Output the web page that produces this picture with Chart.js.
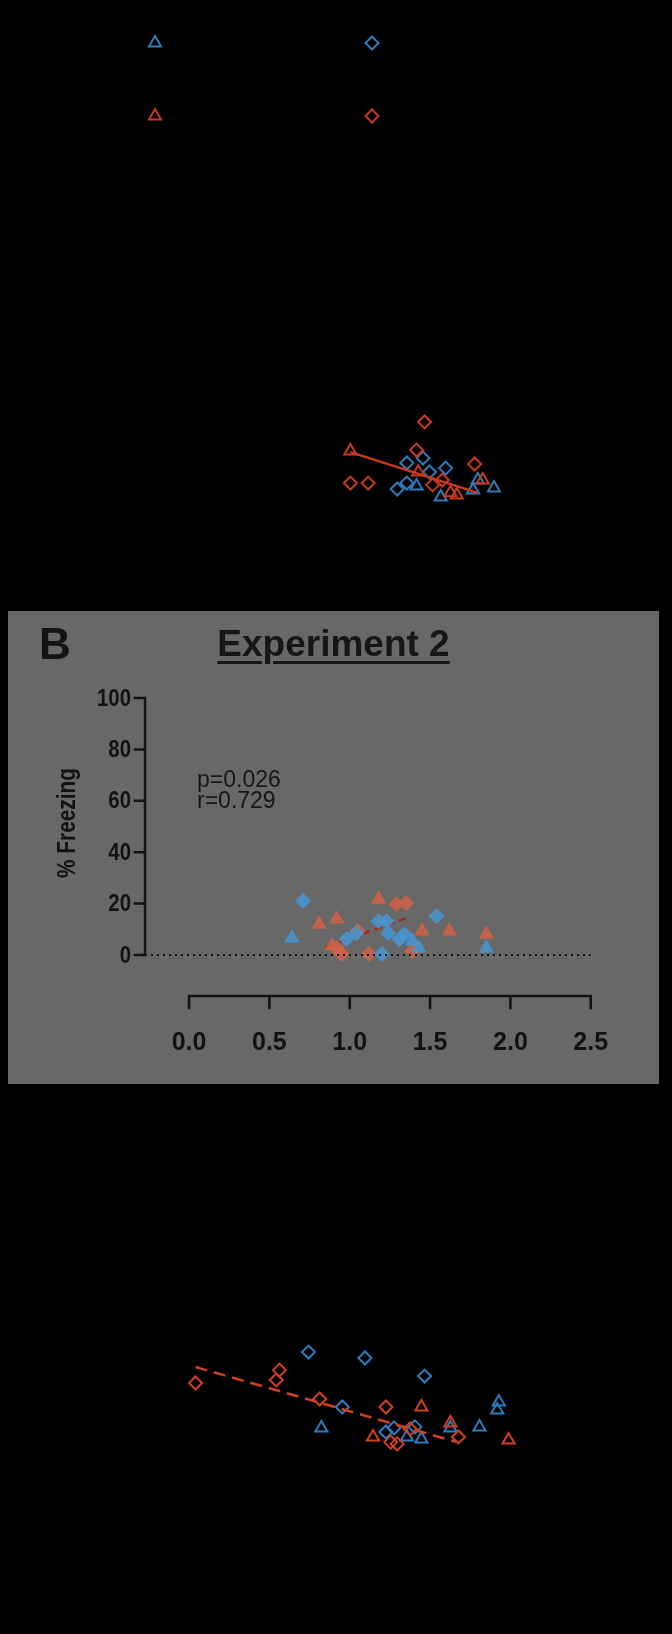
<!DOCTYPE html>
<html lang="en">
<head>
  <title>Experiment 2</title>
  <meta charset="utf-8">
  <script src="https://cdn.jsdelivr.net/npm/chart.js@4.4.1/dist/chart.umd.min.js"></script>
  <style>
    body { margin: 0; background: #000; }
    .page { position: relative; width: 672px; height: 1634px; background: #000; overflow: hidden; }
    #panelA { position: absolute; left: 0; top: 0; }
    #panelC { position: absolute; left: 0; top: 1090px; }
    .panelB { position: absolute; left: 8px; top: 611px; width: 651px; height: 473px; background: #686868; }
    .panelB canvas { position: absolute; left: 0; top: 0; }
    .letter { position: absolute; left: 31px; top: 8px; font: bold 44px "Liberation Sans", Arial, sans-serif; color: #141414; line-height: normal; }
    .title { position: absolute; left: 0; width: 651px; top: 12px; text-align: center; font: bold 37px "Liberation Sans", Arial, sans-serif; color: #161616;
             text-decoration: underline; text-decoration-thickness: 3px; text-underline-offset: 5px; text-decoration-skip-ink: auto; }
    .stats { position: absolute; left: 189px; top: 158px; font: 23px "Liberation Sans", Arial, sans-serif; color: #161616; line-height: 21px; }
  </style>
</head>
<body>
<div class="page">
  <canvas id="panelA" width="672" height="600"></canvas>

  <div class="panelB">
    <canvas id="chartB" width="651" height="473"></canvas>
    <div class="letter">B</div>
    <div class="title">Experiment 2</div>
    <div class="stats">p=0.026<br>r=0.729</div>
  </div>

  <canvas id="panelC" width="672" height="544"></canvas>
</div>

<script>
  // shared axes
  const xTicks = [0, 0.5, 1, 1.5, 2, 2.5];
  const xTickLabels = ["0.0", "0.5", "1.0", "1.5", "2.0", "2.5"];
  const yTicks = [0, 20, 40, 60, 80, 100];
  const yTitle = "% Freezing";

  // top panel
  const aBlueTriX = [1.40, 1.55, 1.78, 1.75, 1.88];
  const aBlueTriY = [4.3, 0.0, 6.6, 2.7, 3.5];
  const aBlueDiaX = [1.44, 1.34, 1.58, 1.48, 1.28, 1.34];
  const aBlueDiaY = [15.1, 13.2, 11.2, 9.7, 3.1, 5.4];
  const aRedTriX = [0.99, 1.61, 1.65, 1.81, 1.41];
  const aRedTriY = [17.8, 1.6, 0.8, 6.6, 9.7];
  const aRedDiaX = [1.45, 0.99, 1.10, 1.40, 1.76, 1.50, 1.56];
  const aRedDiaY = [29.1, 5.4, 5.4, 18.2, 12.8, 4.7, 6.6];
  const aFitX = [0.99, 1.78];
  const aFitY = [17.4, 1.6];

  // panel B (Experiment 2)
  const bBlueTriX = [0.64, 1.85, 1.43, 1.39];
  const bBlueTriY = [6.6, 2.7, 2.7, 5.4];
  const bBlueDiaX = [0.71, 1.18, 1.23, 1.24, 1.04, 0.98, 1.31, 1.54, 1.20, 1.34];
  const bBlueDiaY = [21.0, 13.2, 13.2, 8.5, 8.5, 6.2, 6.2, 15.1, 0.4, 8.0];
  const bRedTriX = [0.81, 0.92, 1.18, 1.45, 1.62, 1.85, 0.89];
  const bRedTriY = [12.0, 14.0, 21.7, 9.3, 9.3, 8.1, 3.5];
  const bRedDiaX = [0.92, 0.95, 1.29, 1.35, 1.05, 1.12, 1.39];
  const bRedDiaY = [2.7, 0.4, 19.8, 20.2, 9.3, 0.4, 1.5];
  const bFitX = [0.85, 1.35];
  const bFitY = [3.1, 14.3];

  // bottom panel
  const cBlueTriX = [1.91, 1.90, 0.81, 1.61, 1.79, 1.34, 1.43];
  const cBlueTriY = [20.5, 17.4, 10.5, 10.5, 10.9, 7.0, 6.2];
  const cBlueDiaX = [0.73, 1.08, 1.45, 0.94, 1.21, 1.26, 1.39];
  const cBlueDiaY = [39.9, 37.6, 30.6, 18.6, 8.9, 10.5, 10.9];
  const cRedTriX = [1.43, 1.61, 1.13, 1.97];
  const cRedTriY = [18.6, 12.4, 7.0, 5.8];
  const cRedDiaX = [0.03, 0.55, 0.53, 0.80, 1.21, 1.36, 1.24, 1.28, 1.66];
  const cRedDiaY = [27.9, 32.9, 29.1, 21.7, 18.6, 10.1, 5.0, 4.3, 7.0];
  const cFitX = [0.03, 1.65];
  const cFitY = [34.1, 5.0];

  const BLUE = "#2f7cbd";
  const RED = "#c9391f";
  const FONT = '"Liberation Sans", Arial, sans-serif';

  function pts(xs, ys) {
    return xs.map((x, i) => ({x: x, y: ys[i]}));
  }

  function markers(xs, ys, color, style, fill) {
    return {
      data: pts(xs, ys),
      pointStyle: style,
      pointRadius: fill ? (style == "triangle" ? 8 : 7.5) : (style == "triangle" ? 7 : 6.5),
      pointBorderWidth: fill ? 1 : 2,
      pointBorderColor: color,
      pointBackgroundColor: fill ? color : "rgba(0,0,0,0)",
      showLine: false,
      clip: false
    };
  }

  function fitLine(xs, ys, color, dash) {
    return {
      data: pts(xs, ys),
      showLine: true,
      pointRadius: 0,
      borderColor: color,
      borderWidth: 2.5,
      borderDash: dash,
      clip: false
    };
  }

  function baseOptions(pad, xMin) {
    return {
      responsive: false,
      animation: false,
      devicePixelRatio: 1,
      layout: {padding: pad},
      plugins: {legend: {display: false}, tooltip: {enabled: false}},
      scales: {
        x: {type: "linear", min: xMin, max: 2.5, display: false},
        y: {type: "linear", min: 0, max: 100, display: false}
      }
    };
  }

  // condensed text, the figure is a bit narrow
  function squeezed(ctx, text, x, y, sx) {
    ctx.save();
    ctx.translate(x, y);
    ctx.scale(sx, 1);
    ctx.fillText(text, 0, 0);
    ctx.restore();
  }

  // top panel, legend symbols only
  const legendA = {
    id: "legendA",
    afterDraw(chart) {
      const ctx = chart.ctx;
      const items = [
        [155, 43, "triangle", BLUE], [372, 43, "rectRot", BLUE],
        [155, 116, "triangle", RED], [372, 116, "rectRot", RED]
      ];
      ctx.save();
      items.forEach(it => {
        ctx.strokeStyle = it[3];
        ctx.fillStyle = "rgba(0,0,0,0)";
        ctx.lineWidth = 2;
        Chart.helpers.drawPoint(ctx, {pointStyle: it[2], radius: it[2] == "triangle" ? 7 : 6.5, borderWidth: 2, rotation: 0}, it[0], it[1]);
      });
      ctx.restore();
    }
  };

  new Chart("panelA", {
    type: "scatter",
    data: {datasets: [
      fitLine(aFitX, aFitY, RED, []),
      markers(aRedDiaX, aRedDiaY, RED, "rectRot"),
      markers(aRedTriX, aRedTriY, RED, "triangle"),
      markers(aBlueDiaX, aBlueDiaY, BLUE, "rectRot"),
      markers(aBlueTriX, aBlueTriY, BLUE, "triangle")
    ]},
    options: baseOptions({left: 142.3, right: 78, top: 239, bottom: 103}, -0.3),
    plugins: [legendA]
  });

  // panel B axes (offset GraphPad style)
  const axesB = {
    id: "axesB",
    beforeDatasetsDraw(chart) {
      const ctx = chart.ctx;
      const xs = chart.scales.x, ys = chart.scales.y;
      const ax = chart.chartArea.left;
      const y0 = ys.getPixelForValue(0);
      const xAxisY = y0 + 41;
      ctx.save();
      ctx.strokeStyle = "#121212";
      ctx.fillStyle = "#121212";
      ctx.lineWidth = 2.5;
      ctx.lineCap = "square";

      // y axis
      ctx.beginPath();
      ctx.moveTo(ax, ys.getPixelForValue(100));
      ctx.lineTo(ax, y0);
      yTicks.forEach(v => {
        const p = ys.getPixelForValue(v);
        ctx.moveTo(ax - 10, p);
        ctx.lineTo(ax, p);
      });
      ctx.stroke();
      ctx.font = "bold 24px " + FONT;
      ctx.textAlign = "right";
      ctx.textBaseline = "middle";
      yTicks.forEach(v => squeezed(ctx, String(v), ax - 14, ys.getPixelForValue(v) + 1, 0.85));

      // x axis
      ctx.beginPath();
      ctx.moveTo(xs.getPixelForValue(0), xAxisY);
      ctx.lineTo(xs.getPixelForValue(2.5), xAxisY);
      xTicks.forEach(v => {
        const p = xs.getPixelForValue(v);
        ctx.moveTo(p, xAxisY);
        ctx.lineTo(p, xAxisY + 12);
      });
      ctx.stroke();
      ctx.font = "bold 25px " + FONT;
      ctx.textAlign = "center";
      xTicks.forEach((v, i) => ctx.fillText(xTickLabels[i], xs.getPixelForValue(v), xAxisY + 47));

      // y title
      ctx.translate(60, 212);
      ctx.rotate(-Math.PI / 2);
      ctx.font = "bold 26px " + FONT;
      squeezed(ctx, yTitle, 0, 0, 0.8);
      ctx.restore();
    }
  };

  new Chart("chartB", {
    type: "scatter",
    data: {datasets: [
      {
        data: pts([-0.274, 2.5], [0, 0]),
        showLine: true, pointRadius: 0,
        borderColor: "#111", borderWidth: 2, borderDash: [2, 4], clip: false
      },
      markers(bBlueTriX, bBlueTriY, "rgba(70,150,212,0.85)", "triangle", true),
      markers(bBlueDiaX, bBlueDiaY, "rgba(70,150,212,0.85)", "rectRot", true),
      markers(bRedTriX, bRedTriY, "rgba(212,98,72,0.85)", "triangle", true),
      markers(bRedDiaX, bRedDiaY, "rgba(212,98,72,0.85)", "rectRot", true),
      fitLine(bFitX, bFitY, "#9e2a1c", [8, 5])
    ]},
    options: baseOptions({left: 137, right: 68.25, top: 87, bottom: 129}, -0.274),
    plugins: [axesB]
  });

  // bottom panel
  new Chart("panelC", {
    type: "scatter",
    data: {datasets: [
      fitLine(cFitX, cFitY, "#d2401f", [12, 7]),
      markers(cRedDiaX, cRedDiaY, "#d2401f", "rectRot"),
      markers(cRedTriX, cRedTriY, "#d2401f", "triangle"),
      markers(cBlueDiaX, cBlueDiaY, "#2c7cc2", "rectRot"),
      markers(cBlueTriX, cBlueTriY, "#2c7cc2", "triangle")
    ]},
    options: baseOptions({left: 142.3, right: 78, top: 107, bottom: 179}, -0.3)
  });
</script>
</body>
</html>
